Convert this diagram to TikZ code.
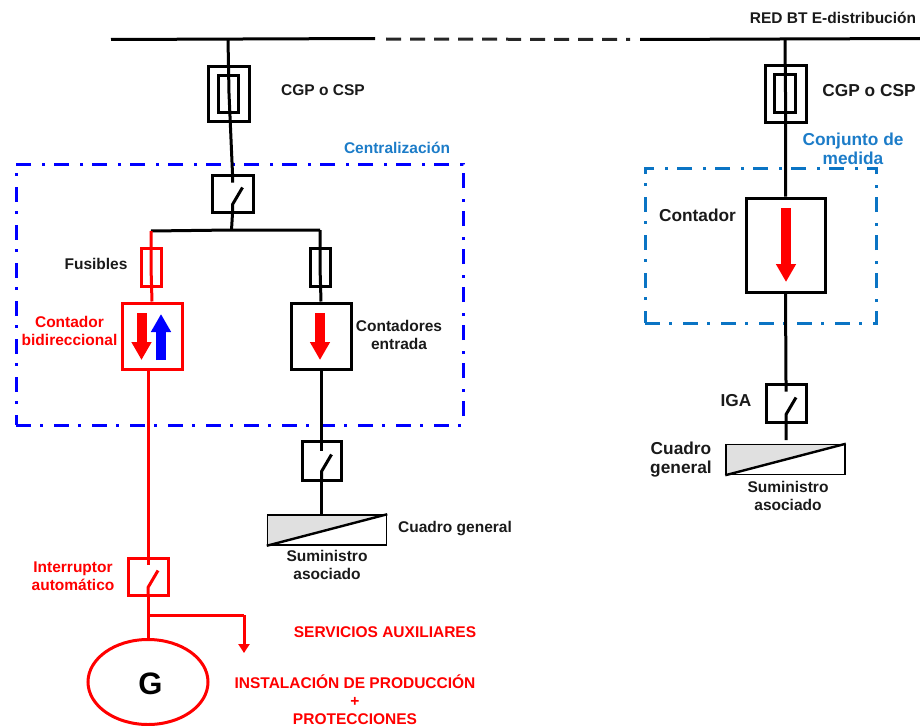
\documentclass[tikz,border=0pt]{standalone}
\usepackage{fontspec}
\setmainfont{Liberation Sans}
\usetikzlibrary{arrows.meta,shapes.geometric}
\definecolor{cblue}{HTML}{1C7CC8}
\definecolor{mblue}{HTML}{0A74C4}
\definecolor{tgray}{HTML}{1A1A1A}
\tikzset{
  wire/.style={line width=3pt,black},
  rwire/.style={line width=3pt,red},
  box/.style={draw,rectangle,line width=3pt,inner sep=0pt,minimum width=#1},
  fatarrow/.style={line width=10pt,-{Triangle[width=19pt,length=18pt]}},
  lab/.style={font=\fontsize{15.5}{18}\selectfont\bfseries,align=center,text=tgray,inner sep=0pt},
  biglab/.style={lab,font=\fontsize{17.3}{19}\selectfont\bfseries},
  rlab/.style={lab,text=red},
  blab/.style={lab,text=cblue},
  dashdot/.style={line width=3pt,dash pattern=on 15pt off 9pt on 3pt off 11pt},
  panel/.style={draw,rectangle,line width=1.5pt,inner sep=0pt,minimum width=119pt,minimum height=30pt}
}
\begin{document}
\begin{tikzpicture}[x=1pt,y=-1pt]
\useasboundingbox (0,0) rectangle (920,725);
% groups
\node[draw=blue,dashdot,rectangle,inner sep=0pt,minimum width=447pt,minimum height=261pt] (central) at (239.5,294.5) {};
\node[draw=mblue,dashdot,rectangle,inner sep=0pt,minimum width=231pt,minimum height=155pt] (conjunto) at (760.5,245.5) {};
% bus
\coordinate (busLa) at (111,39.5);
\coordinate (busLb) at (375,38.5);
\coordinate (busMa) at (386,39);
\coordinate (busMb) at (630,39.5);
\coordinate (busRa) at (640,39.5);
\coordinate (busRb) at (920,38.5);
\coordinate (tapL) at (228,39);
\coordinate (tapR) at (785,39);
\draw[wire] (busLa) -- (busLb);
\draw[line width=3pt,black!85,dash pattern=on 15pt off 9pt] (busMa) -- (busMb);
\draw[wire] (busRa) -- (busRb);
% left CGP
\node[box=41pt,minimum height=55pt] (cgpL) at (229,93.5) {};
\node[box=20pt,minimum height=37pt] (cgpLi) at (228.5,93.5) {};
% left switch
\node[box=41pt,minimum height=37pt] (swL) at (232.5,193.5) {};
\draw[wire] (tapL) -- (cgpL.center) -- (swL.north) -- ++(0,9);
\draw[wire] (swL.south) -- ++(0,-9) -- ++(10,-17);
\coordinate (juncL) at (231.5,230);
\coordinate (juncA) at (151,231);
\coordinate (juncB) at (320,230);
\draw[wire] (swL.south) -- (juncL);
\draw[wire] (juncA) -- (juncL) -- (juncB);
% fuses
\node[box=20pt,draw=red,minimum height=38pt] (fuA) at (151,267) {};
\node[box=20pt,minimum height=38pt] (fuB) at (320,267) {};
% meters
\node[box=60pt,draw=red,minimum height=66pt] (mA) at (152,336) {};
\node[box=60pt,minimum height=66pt] (mB) at (321,336) {};
\draw[rwire] (juncA) -- (fuA.center) -- (mA.north);
\draw[wire] (juncB) -- (fuB.center) -- (mB.north);
\draw[fatarrow,red] (141.5,313) -- (141.5,360);
\draw[fatarrow,blue] (161,360) -- (161,314);
\draw[fatarrow,red] (320,313) -- (320,360);
% lower left switches
\node[box=40pt,draw=red,minimum height=37pt] (swA) at (148,576.5) {};
\node[box=39pt,minimum height=39pt] (swB) at (321.5,460.5) {};
\draw[rwire] (mA.south -| swA.north) -- (swA.north) -- ++(0,8);
\draw[rwire] (swA.south) -- ++(0,-9) -- ++(10,-17);
\draw[wire] (mB.south) -- (swB.north -| mB.south) -- ++(0,11);
\draw[wire] (swB.south) -- ++(0,-10) -- ++(10,-17);
% panel left
\node[panel] (cgA) at (327,530) {};
\fill[black!12] (cgA.north west) -- (cgA.north east) -- (cgA.south west) -- cycle;
\node[panel] at (cgA) {};
\draw[line width=2.4pt] (cgA.south west) -- (cgA.north east);
\draw[wire] (swB.south) -- (swB.south |- cgA.north);
% generator
\node[draw=red,ellipse,line width=3pt,inner sep=0pt,minimum width=120pt,minimum height=85pt] (gen) at (148,682) {};
\node[font=\fontsize{31}{34}\selectfont\bfseries,inner sep=0pt] (gl) at (150.5,684) {G};
\coordinate (juncG) at (148,615);
\coordinate (juncS) at (244,615);
\coordinate (tipS) at (244,653);
\draw[rwire] (swA.south) -- (gen.north);
\draw[rwire] (juncG) -- (juncS);
\draw[rwire,-{Triangle[width=11pt,length=9pt]}] (juncS) -- (tipS);
% right branch
\node[box=41pt,minimum height=57pt] (cgpR) at (785.5,93.5) {};
\node[box=21pt,minimum height=38pt] (cgpRi) at (784.5,93) {};
\node[box=79pt,minimum height=94pt] (mR) at (785.5,245) {};
\node[box=40pt,minimum height=38pt] (swR) at (786,403) {};
\node[panel] (cgR) at (785.5,459.5) {};
\fill[black!12] (cgR.north west) -- (cgR.north east) -- (cgR.south west) -- cycle;
\node[panel] at (cgR) {};
\draw[line width=2.4pt] (cgR.south west) -- (cgR.north east);
\coordinate (endR) at (786,440);
\draw[wire] (tapR) -- (cgpR.center) -- (mR.north);
\draw[wire] (mR.south) -- (swR.north) -- ++(0,9);
\draw[wire] (endR) -- (swR.south) -- ++(0,-9) -- ++(10,-17);
\draw[fatarrow,red] (786,208) -- (786,282);
% labels
\node[lab] (t1) at (323,90) {CGP o CSP};
\node[blab] (t2) at (397,148) {Centralización};
\node[lab] (t3) at (96,264) {Fusibles};
\node[rlab] (t4) at (69.5,331) {Contador\\bidireccional};
\node[lab] (t5) at (399,335) {Contadores\\entrada};
\node[lab] (t6) at (455,529) {Cuadro general};
\node[lab] (t7) at (327,565) {Suministro\\asociado};
\node[rlab] (t8) at (73,576) {Interruptor\\automático};
\node[rlab] (t9) at (385,632) {SERVICIOS AUXILIARES};
\node[rlab] (t10) at (355,699.5) {INSTALACIÓN DE PRODUCCIÓN\\+\\PROTECCIONES};
\node[lab] (t11) at (833,18) {RED BT E-distribución};
\node[biglab] (t12) at (869,91) {CGP o CSP};
\node[biglab,text=cblue] (t13) at (853,148.5) {Conjunto de\\medida};
\node[biglab] (t14) at (697.5,215) {Contador};
\node[biglab] (t15) at (736,401) {IGA};
\node[biglab] (t16) at (681,460) {Cuadro\\general};
\node[lab] (t17) at (788,496) {Suministro\\asociado};
\end{tikzpicture}
\end{document}
